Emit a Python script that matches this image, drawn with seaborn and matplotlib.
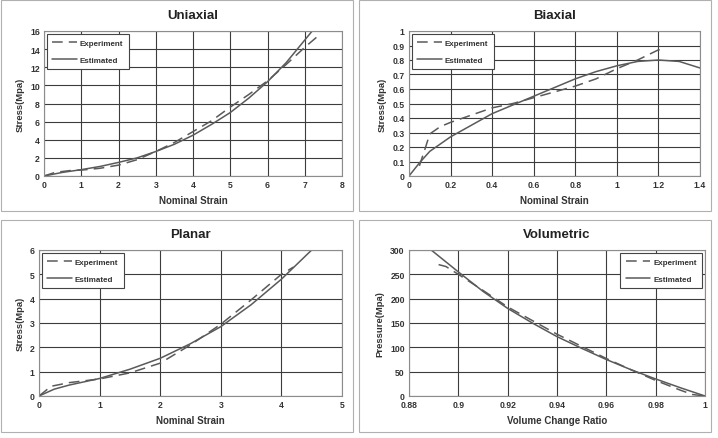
import numpy as np
import pandas as pd
import matplotlib
matplotlib.use('Agg')
import matplotlib.pyplot as plt
from matplotlib.patches import Rectangle
import seaborn as sns

# Uniaxial
uni_exp_x = [0, 0.3, 0.7, 1.0, 1.5, 2.0, 2.5, 3.0, 3.5, 4.0, 4.5, 5.0, 5.5, 6.0, 6.5, 7.0, 7.4]
uni_exp_y = [0, 0.4, 0.6, 0.65, 0.85, 1.2, 1.8, 2.7, 3.7, 4.9, 6.1, 7.6, 9.0, 10.5, 12.3, 14.2, 15.6]
uni_est_x = [0, 0.5, 1.0, 1.5, 2.0, 2.5, 3.0, 3.5, 4.0, 4.5, 5.0, 5.5, 6.0, 6.5, 7.0, 7.2]
uni_est_y = [0, 0.4, 0.7, 1.05, 1.5, 2.0, 2.7, 3.5, 4.5, 5.7, 7.0, 8.6, 10.4, 12.5, 15.0, 16.0]

# Biaxial
bi_exp_x = [0.05, 0.08, 0.1, 0.15, 0.2, 0.3, 0.4, 0.5, 0.6, 0.7, 0.8, 0.9, 1.0, 1.1, 1.2, 1.22]
bi_exp_y = [0.07, 0.2, 0.29, 0.34, 0.37, 0.42, 0.47, 0.50, 0.54, 0.58, 0.62, 0.67, 0.74, 0.80, 0.87, 0.87]
bi_est_x = [0, 0.05, 0.1, 0.2, 0.3, 0.4, 0.5, 0.6, 0.7, 0.8, 0.9, 1.0, 1.1, 1.2, 1.3, 1.4]
bi_est_y = [0, 0.09, 0.17, 0.27, 0.35, 0.43, 0.49, 0.55, 0.61, 0.67, 0.72, 0.76, 0.79, 0.80, 0.79, 0.745]

# Planar
pl_exp_x = [0, 0.2, 0.5, 1.0, 1.5, 2.0, 2.5, 3.0, 3.5, 4.0, 4.2]
pl_exp_y = [0, 0.4, 0.55, 0.7, 0.95, 1.35, 2.1, 2.95, 3.95, 5.0, 5.3]
pl_est_x = [0, 0.25, 0.5, 1.0, 1.5, 2.0, 2.5, 3.0, 3.5, 4.0, 4.5]
pl_est_y = [0, 0.28, 0.45, 0.72, 1.1, 1.55, 2.15, 2.85, 3.75, 4.8, 6.0]

# Volumetric
vol_exp_x = [0.892, 0.895, 0.9, 0.91, 0.92, 0.93, 0.94, 0.95, 0.96, 0.97, 0.98, 0.99, 0.995, 1.0]
vol_exp_y = [270, 266, 250, 217, 183, 155, 127, 102, 77, 54, 32, 12, 3, 0]
vol_est_x = [0.889, 0.9, 0.91, 0.92, 0.93, 0.94, 0.95, 0.96, 0.97, 0.98, 0.99, 1.0]
vol_est_y = [300, 255, 215, 180, 150, 122, 98, 75, 54, 35, 17, 0]

panels = [
    dict(title='Uniaxial', ex=uni_exp_x, ey=uni_exp_y, sx=uni_est_x, sy=uni_est_y,
         xlim=(0, 8), ylim=(0, 16), xt=np.arange(0, 9, 1), yt=np.arange(0, 17, 2),
         xl='Nominal Strain', yl='Stress(Mpa)', loc='upper left',
         pos=[44, 32, 342, 177]),
    dict(title='Biaxial', ex=bi_exp_x, ey=bi_exp_y, sx=bi_est_x, sy=bi_est_y,
         xlim=(0, 1.4), ylim=(0, 1), xt=np.arange(0, 1.41, 0.2), yt=np.arange(0, 1.01, 0.1),
         xl='Nominal Strain', yl='Stress(Mpa)', loc='upper left',
         pos=[409, 32, 700, 177]),
    dict(title='Planar', ex=pl_exp_x, ey=pl_exp_y, sx=pl_est_x, sy=pl_est_y,
         xlim=(0, 5), ylim=(0, 6), xt=np.arange(0, 6, 1), yt=np.arange(0, 7, 1),
         xl='Nominal Strain', yl='Stress(Mpa)', loc='upper left',
         pos=[39, 251, 342, 397]),
    dict(title='Volumetric', ex=vol_exp_x, ey=vol_exp_y, sx=vol_est_x, sy=vol_est_y,
         xlim=(0.88, 1.0), ylim=(0, 300), xt=np.arange(0.88, 1.001, 0.02), yt=np.arange(0, 301, 50),
         xl='Volume Change Ratio', yl='Pressure(Mpa)', loc='upper right',
         pos=[409, 251, 705, 397]),
]

sns.set_style('white')
plt.rcParams['font.family'] = ['Liberation Sans', 'DejaVu Sans']

W, H = 718, 439
fig = plt.figure(figsize=(W / 100, H / 100), dpi=100)

# panel borders
for (x0, y0, x1, y1) in [(1, 1, 353, 212), (359, 1, 711, 212), (1, 221, 353, 433), (359, 221, 711, 433)]:
    fig.patches.append(Rectangle((x0 / W, 1 - y1 / H), (x1 - x0) / W, (y1 - y0) / H,
                                 transform=fig.transFigure, fill=False,
                                 edgecolor='#b0b0b0', linewidth=0.8))

line_color = '#5a5a5a'
txt = '#333333'

def fmt(v):
    s = f'{v:.2f}'.rstrip('0').rstrip('.')
    return s

for p in panels:
    x0, y0, x1, y1 = p['pos']
    ax = fig.add_axes([x0 / W, 1 - y1 / H, (x1 - x0) / W, (y1 - y0) / H])
    sns.lineplot(x=p['ex'], y=p['ey'], ax=ax, color=line_color, linewidth=1.1,
                 label='Experiment', sort=False)
    ax.lines[-1].set_dashes([7, 4])
    sns.lineplot(x=p['sx'], y=p['sy'], ax=ax, color=line_color, linewidth=1.1,
                 label='Estimated', sort=False)
    ax.set_xlim(*p['xlim'])
    ax.set_ylim(*p['ylim'])
    ax.set_xticks(p['xt'])
    ax.set_yticks(p['yt'])
    ax.set_xticklabels([fmt(v) for v in p['xt']], fontsize=6.2, fontweight='bold', color=txt)
    ax.set_yticklabels([fmt(v) for v in p['yt']], fontsize=6.2, fontweight='bold', color=txt)
    ax.grid(True, color='#3c3c3c', linewidth=0.8)
    for s in ax.spines.values():
        s.set_color('#8c8c8c')
        s.set_linewidth(0.8)
    ax.tick_params(length=0, pad=3)
    ax.set_xlabel(p['xl'], fontsize=7, fontweight='bold', color=txt, labelpad=4)
    ax.set_ylabel(p['yl'], fontsize=6.8, fontweight='bold', color=txt, labelpad=4)
    ax.set_title(p['title'], fontsize=9.5, fontweight='bold', color='#222222', pad=9)
    leg = ax.legend(loc=p['loc'], prop=dict(size=5.8, weight='bold'), frameon=True,
                    fancybox=False, handlelength=3.0, handletextpad=0.4,
                    labelspacing=1.1, borderpad=0.7, borderaxespad=0.35)
    leg.get_frame().set_edgecolor('#444444')
    leg.get_frame().set_linewidth(0.8)
    leg.get_frame().set_alpha(1)
    for t in leg.get_texts():
        t.set_color(txt)
    leg.get_lines()[0].set_dashes([7, 4])

fig.savefig('out.png', dpi=100)
